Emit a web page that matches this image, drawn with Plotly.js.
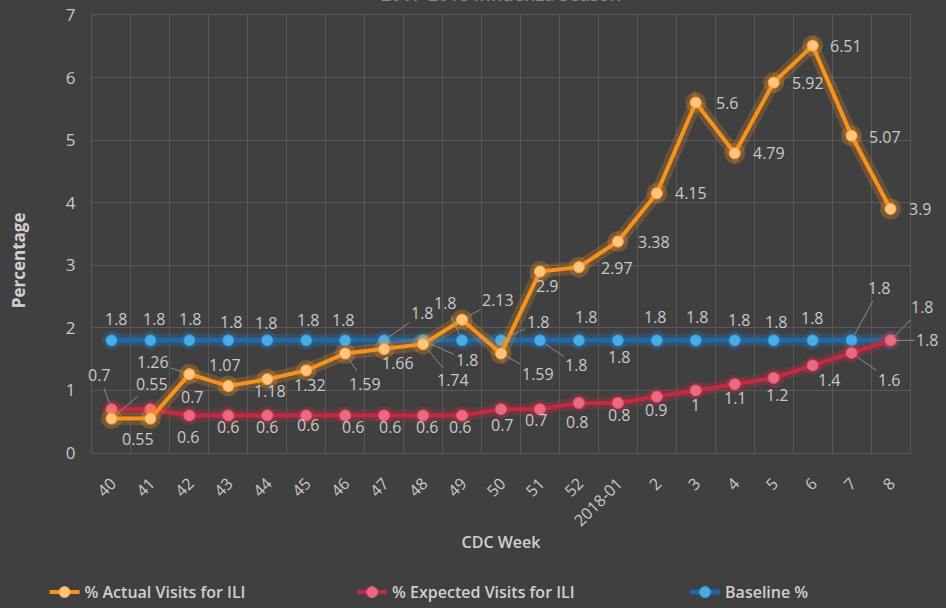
<!DOCTYPE html>
<html>
<head>
<meta charset="utf-8">
<script src="https://cdn.plot.ly/plotly-3.0.1.min.js"></script>
<style>html,body{margin:0;padding:0;background:#404040;}#chart{width:946px;height:608px;}</style>
</head>
<body>
<div id="chart"></div>
<script>
// ---- data ----
const weeks = ['40','41','42','43','44','45','46','47','48','49','50','51','52','2018-01','2','3','4','5','6','7','8'];
const actualVisits = [0.55,0.55,1.26,1.07,1.18,1.32,1.59,1.66,1.74,2.13,1.59,2.9,2.97,3.38,4.15,5.6,4.79,5.92,6.51,5.07,3.9];
const expectedVisits = [0.7,0.7,0.6,0.6,0.6,0.6,0.6,0.6,0.6,0.6,0.7,0.7,0.8,0.8,0.9,1,1.1,1.2,1.4,1.6,1.8];
const baseline = [1.8,1.8,1.8,1.8,1.8,1.8,1.8,1.8,1.8,1.8,1.8,1.8,1.8,1.8,1.8,1.8,1.8,1.8,1.8,1.8,1.8];
const seriesNames = ['% Actual Visits for ILI','% Expected Visits for ILI','Baseline %'];
const chartTitle = '2017-2018 Influenza Season';
const xTitle = 'CDC Week';
const yTitle = 'Percentage';

// ---- label placement (pixel offsets of data labels, leader-line flags) ----
const actDx = [41,-12,-36,-3,3,4,20,14,30,36,37,8,38,36,34,32,34,34,33,33,30];
const actDy = [-35,20,-12,-21,12,15,30,14,36,-20,20,14,1,0,0,0,0,0,0,1,0];
const actLead = [1,0,1,0,0,0,1,0,1,1,1,0,0,0,0,0,0,0,0,0,0];
const expDx = [-12,42,-1,0,0,2,8,6,4,-2,1,-3,-1,2,0,0,1,4,17,38,37];
const expDy = [-34,-12,22,12,12,10,12,12,12,12,16,11,19,12,13,15,14,17,15,27,0];
const expLead = [1,0,0,0,0,0,0,0,0,0,0,0,0,0,0,0,0,0,0,1,1];
const baseDx = [5,4,1,3,-1,2,-2,38,44,-17,37,37,8,2,-1,2,5,3,0,28,32];
const baseDy = [-21,-21,-21,-18,-17,-20,-20,-27,20,-37,-18,25,-23,17,-23,-23,-20,-18,-22,-52,-33];
const baseLead = [0,0,0,0,0,0,0,1,1,1,1,1,0,0,0,0,0,0,0,1,1];

const idx = weeks.map((w,i)=>i);
const FONT = '"Open Sans", "Noto Sans", sans-serif';

function glow(y, rgb, lw, ms){
  return {x: weeks, y: y, type:'scatter', mode:'lines+markers', showlegend:false, hoverinfo:'skip',
    line:{color:'rgba('+rgb+',0.22)', width:lw},
    marker:{size:ms, color:'rgba('+rgb+',0.28)', line:{width:0}}};
}
function main(y, name, lc, mc, mlc, lw, leg){
  return {x: weeks, y: y, name: name, type:'scatter', mode:'lines+markers', legend: leg,
    line:{color:lc, width:lw},
    marker:{size:11, color:mc, line:{color:mlc, width:1}}};
}

const traces = [
  glow(baseline,'40,120,190',13,19),
  main(baseline, seriesNames[2], '#1f68a6', '#46adea', '#3a9ad6', 5, 'legend3'),
  glow(expectedVisits,'215,40,70',12,19),
  main(expectedVisits, seriesNames[1], '#c8283f', '#ec6a80', '#e05a72', 4, 'legend2'),
  glow(actualVisits,'247,147,30',13,21),
  main(actualVisits, seriesNames[0], '#f7921c', '#ffc47e', '#f9a53e', 4, 'legend')
];

function labels(vals, dx, dy, lead){
  return idx.map(i => ({
    x: i, y: vals[i], xref:'x', yref:'y', text: String(vals[i]),
    showarrow: true, arrowhead: 0, arrowwidth: 1, standoff: 6,
    arrowcolor: lead[i] ? '#8c8c8c' : 'rgba(0,0,0,0)',
    ax: dx[i], ay: dy[i],
    font:{family:FONT, size:16, color:'#c9c9c9'}
  }));
}
const annotations = [].concat(
  labels(baseline, baseDx, baseDy, baseLead),
  labels(expectedVisits, expDx, expDy, expLead),
  labels(actualVisits, actDx, actDy, actLead),
  [{text: chartTitle, xref:'paper', yref:'paper', x:0.5, y:1, yanchor:'middle', yshift:21, showarrow:false,
    font:{family:FONT, size:18, color:'#8a8a8a', weight:600}},
   {text: yTitle, xref:'paper', yref:'paper', x:-0.0905, y:0.44, xanchor:'center', yanchor:'middle', textangle:-90, showarrow:false,
    font:{family:FONT, size:17, color:'#d0d0d0', weight:700}}]
);

const legFont = {family:FONT, size:16, color:'#d0d0d0', weight:600};
function leg(x){ return {orientation:'h', x:x, xanchor:'left', yref:'container', y:0.026, yanchor:'middle', font:legFont, bgcolor:'rgba(0,0,0,0)'}; }

const layout = {
  width: 946, height: 608,
  paper_bgcolor:'#404040', plot_bgcolor:'#404040',
  margin:{l:92, r:36, t:15, b:155, autoexpand:false},
  font:{family:FONT, color:'#c9c9c9'},
  xaxis:{type:'category', range:[-0.5,20.5], tickson:'boundaries', showgrid:true, gridcolor:'#595959', gridwidth:1,
    showline:true, linecolor:'#595959', mirror:true, zeroline:false, ticks:'', automargin:false,
    tickangle:-45, ticklabelstandoff:14, tickfont:{family:FONT, size:16, color:'#c9c9c9'},
    title:{text:xTitle, standoff:6, font:{family:FONT, size:16, color:'#d0d0d0', weight:600}}},
  yaxis:{range:[0,7], dtick:1, showgrid:true, gridcolor:'#595959', gridwidth:1, zeroline:false,
    showline:true, linecolor:'#595959', mirror:true, ticks:'', ticklabelstandoff:12, automargin:false,
    tickfont:{family:FONT, size:17, color:'#c9c9c9'}},
  legend: leg(-0.058),
  legend2: leg(0.318),
  legend3: leg(0.725),
  annotations: annotations,
  showlegend:true
};

Plotly.newPlot('chart', traces, layout, {displayModeBar:false, staticPlot:true});
</script>
</body>
</html>
